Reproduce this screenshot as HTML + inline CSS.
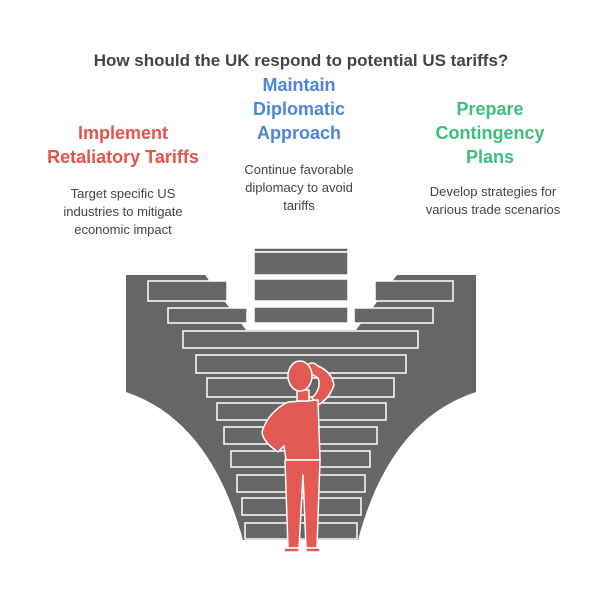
<!DOCTYPE html>
<html><head><style>
body{margin:0;width:602px;height:604px;background:#fff;font-family:"Liberation Sans",sans-serif;overflow:hidden}
</style></head><body>
<svg width="602" height="604" xmlns="http://www.w3.org/2000/svg" font-family="Liberation Sans, sans-serif">
<text x="301" y="66" text-anchor="middle" font-size="17" font-weight="bold" fill="#444">How should the UK respond to potential US tariffs?</text>
<g font-size="18" font-weight="bold" text-anchor="middle">
<text x="123" y="139" fill="#e5534b">Implement</text>
<text x="123" y="163" fill="#e5534b">Retaliatory Tariffs</text>
<text x="299" y="91" fill="#4a86e0">Maintain</text>
<text x="299" y="115" fill="#4a86e0">Diplomatic</text>
<text x="299" y="139" fill="#4a86e0">Approach</text>
<text x="490" y="115" fill="#3cbf7a">Prepare</text>
<text x="490" y="139" fill="#3cbf7a">Contingency</text>
<text x="490" y="163" fill="#3cbf7a">Plans</text>
</g>
<g font-size="13" fill="#444" text-anchor="middle">
<text x="123" y="198">Target specific US</text>
<text x="123" y="216">industries to mitigate</text>
<text x="123" y="234">economic impact</text>
<text x="299" y="174">Continue favorable</text>
<text x="299" y="192">diplomacy to avoid</text>
<text x="299" y="210">tariffs</text>
<text x="493" y="196">Develop strategies for</text>
<text x="493" y="214">various trade scenarios</text>
</g>
<path d="M126,275 L205,275 L246,330 L356,330 L397,275 L476,275 L476,392 Q390,420 358,540 L243,540 Q210,420 126,392 Z" fill="#666"/>
<g fill="#666" stroke="#fff" stroke-width="1.5">
<rect x="254" y="248" width="94" height="4"/>
<rect x="254" y="252" width="94" height="23"/>
<rect x="254" y="279" width="94" height="22"/>
<rect x="254" y="307" width="94" height="16"/>
<rect x="148" y="281" width="79" height="20"/>
<rect x="375" y="281" width="78" height="20"/>
<rect x="168" y="308" width="79" height="15"/>
<rect x="354" y="308" width="79" height="15"/>
<rect x="183" y="331" width="235" height="17"/>
<rect x="196" y="355" width="210" height="18"/>
<rect x="207" y="378" width="187" height="19"/>
<rect x="217" y="403" width="169" height="17"/>
<rect x="224" y="427" width="153" height="17"/>
<rect x="231" y="451" width="139" height="16"/>
<rect x="237" y="475" width="128" height="17"/>
<rect x="242" y="498" width="119" height="17"/>
<rect x="245" y="523" width="112" height="16"/>
</g>
<g fill="#e25a53" stroke="#fff" stroke-width="1.5" stroke-linejoin="round">
<path d="M306,366 Q312,360 318,366 Q332,372 334,385 Q330,398 318,405 L312,398 Q322,388 318,378 Q312,374 306,372 Z"/>
<path d="M288,402 L318,400 L320,460 L286,460 L284,446 L278,452 Q263,442 262,432 Q268,412 288,402 Z"/>
<path d="M285,460 L320,460 L317,548 L306,548 L303,475 L299,548 L288,548 Z"/>
<path d="M284,548 L299,548 L299,552 L284,552 Z M306,548 L320,548 L320,552 L306,552 Z"/>
<rect x="297" y="390" width="12" height="11"/>
<ellipse cx="300" cy="376" rx="12" ry="15"/>
</g>
</svg>
</body></html>
